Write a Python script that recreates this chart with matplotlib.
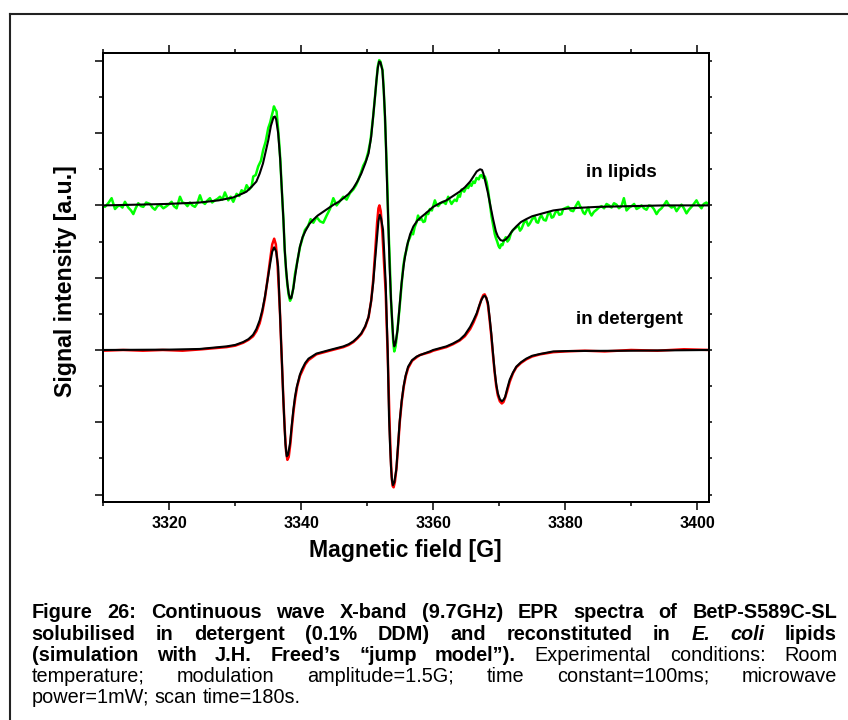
import matplotlib
matplotlib.use("Agg")
import matplotlib.pyplot as plt
from matplotlib.lines import Line2D
from matplotlib.ticker import FormatStrFormatter, MultipleLocator

plt.rcParams["font.family"] = ["Liberation Sans", "DejaVu Sans"]
plt.rcParams["font.weight"] = "bold"

W, H = 848, 720

# simulation, in lipids (black, upper)
sim_lip_field = [
    3310.0, 3315.0, 3319.6, 3324.6, 3327.5, 3329.7, 3331.0, 3331.7, 3332.5, 3333.2,
    3333.7, 3334.2, 3334.6, 3335.0, 3335.4, 3335.8, 3336.0, 3336.2, 3336.5, 3336.8,
    3337.0, 3337.3, 3337.5, 3337.7, 3337.9, 3338.1, 3338.3, 3338.5, 3338.8, 3339.05,
    3339.4, 3339.8, 3340.2, 3340.6, 3341.2, 3341.8, 3342.5, 3343.3, 3344.1, 3344.9,
    3345.7, 3346.4, 3347.2, 3347.9, 3348.5, 3349.1, 3349.7, 3350.2, 3350.6, 3350.9,
    3351.2, 3351.4, 3351.6, 3351.8, 3352.0, 3352.3, 3352.5, 3352.7, 3352.85, 3353.0,
    3353.2, 3353.4, 3353.6, 3353.8, 3353.95, 3354.1, 3354.3, 3354.6, 3354.9, 3355.2,
    3355.6, 3356.0, 3356.5, 3357.0, 3357.6, 3358.2, 3359.0, 3360.0, 3361.0, 3362.0,
    3363.0, 3364.0, 3364.8, 3365.6, 3366.1, 3366.6, 3367.1, 3367.4, 3367.6, 3367.9,
    3368.3, 3368.7, 3369.1, 3369.5, 3369.8, 3370.2, 3370.6, 3371.0, 3371.4, 3372.0,
    3372.6, 3373.3, 3374.1, 3375.0, 3376.2, 3378.2, 3380.7, 3385.0, 3390.0, 3395.0,
    3402.0,
]
sim_lip_signal = [
    2.00, 2.01, 2.02, 2.04, 2.07, 2.11, 2.16, 2.19, 2.26, 2.33,
    2.44, 2.58, 2.74, 2.90, 3.10, 3.22, 3.23, 3.19, 3.00, 2.65,
    2.31, 1.80, 1.38, 1.12, 0.92, 0.78, 0.71, 0.72, 0.85, 1.01,
    1.22, 1.43, 1.56, 1.64, 1.74, 1.80, 1.86, 1.91, 1.96, 2.01,
    2.05, 2.10, 2.16, 2.24, 2.33, 2.44, 2.58, 2.72, 2.95, 3.23,
    3.52, 3.73, 3.90, 3.99, 3.98, 3.87, 3.60, 3.23, 2.80, 2.31,
    1.75, 1.15, 0.70, 0.37, 0.15, 0.05, 0.10, 0.28, 0.60, 0.92,
    1.22, 1.43, 1.60, 1.71, 1.79, 1.84, 1.90, 1.98, 2.03, 2.07,
    2.13, 2.19, 2.25, 2.33, 2.40, 2.47, 2.50, 2.49, 2.44, 2.33,
    2.17, 1.98, 1.80, 1.64, 1.57, 1.52, 1.51, 1.53, 1.57, 1.65,
    1.71, 1.77, 1.81, 1.85, 1.88, 1.93, 1.96, 1.98, 1.99, 2.00,
    2.00,
]

# experiment, in lipids (green, noisy)
exp_lip_field = [
    3310.0, 3310.25, 3310.75, 3311.26, 3311.77, 3312.2, 3312.53, 3312.9, 3313.28, 3313.79,
    3314.2, 3314.55, 3314.9, 3315.3, 3315.7, 3316.06, 3316.5, 3317.07, 3317.45, 3317.83,
    3318.2, 3318.59, 3319.1, 3319.6, 3320.0, 3320.35, 3320.7, 3321.11, 3321.62, 3322.0,
    3322.37, 3322.75, 3323.13, 3323.5, 3323.89, 3324.25, 3324.65, 3325.0, 3325.4, 3325.8,
    3326.16, 3326.5, 3326.92, 3327.3, 3327.68, 3328.05, 3328.43, 3328.94, 3329.3, 3329.7,
    3330.2, 3330.6, 3330.96, 3331.35, 3331.72, 3332.1, 3332.47, 3332.73, 3333.1, 3333.48,
    3333.9, 3334.24, 3334.6, 3335.0, 3335.3, 3335.5, 3335.7, 3335.86, 3336.05, 3336.26,
    3336.5, 3336.67, 3336.85, 3337.0, 3337.3, 3337.5, 3337.7, 3337.9, 3338.1, 3338.3,
    3338.5, 3338.8, 3339.05, 3339.4, 3339.8, 3340.2, 3340.56, 3341.07, 3341.42, 3341.83,
    3342.33, 3342.84, 3343.34, 3343.85, 3344.35, 3344.86, 3345.36, 3345.87, 3346.37, 3346.88,
    3347.38, 3347.89, 3348.3, 3348.64, 3349.0, 3349.4, 3349.8, 3350.16, 3350.5, 3350.9,
    3351.2, 3351.42, 3351.6, 3351.82, 3352.0, 3352.33, 3352.5, 3352.68, 3352.85, 3353.04,
    3353.2, 3353.44, 3353.6, 3353.8, 3353.95, 3354.1, 3354.3, 3354.55, 3354.9, 3355.2,
    3355.45, 3355.7, 3356.0, 3356.2, 3356.45, 3356.7, 3356.95, 3357.2, 3357.45, 3357.7,
    3357.95, 3358.2, 3358.5, 3358.74, 3359.0, 3359.25, 3359.5, 3359.8, 3360.25, 3360.5,
    3360.76, 3361.1, 3361.5, 3361.9, 3362.27, 3362.5, 3362.78, 3363.0, 3363.28, 3363.55,
    3363.79, 3364.05, 3364.3, 3364.7, 3365.05, 3365.3, 3365.56, 3365.8, 3366.06, 3366.3,
    3366.57, 3366.9, 3367.1, 3367.32, 3367.55, 3367.83, 3368.1, 3368.33, 3368.6, 3368.84,
    3369.1, 3369.34, 3369.5, 3369.7, 3369.9, 3370.1, 3370.3, 3370.5, 3370.75, 3371.0,
    3371.25, 3371.5, 3371.8, 3372.1, 3372.5, 3372.9, 3373.15, 3373.4, 3373.75, 3374.1,
    3374.4, 3374.65, 3375.0, 3375.4, 3375.65, 3375.9, 3376.15, 3376.4, 3376.75, 3377.07,
    3377.4, 3377.7, 3377.95, 3378.2, 3378.5, 3378.8, 3379.1, 3379.45, 3379.7, 3380.2,
    3380.46, 3380.85, 3381.22, 3381.6, 3381.98, 3382.25, 3382.48, 3382.75, 3382.99, 3383.25,
    3383.49, 3383.75, 3384.0, 3384.35, 3384.76, 3385.1, 3385.51, 3385.9, 3386.27, 3386.65,
    3387.03, 3387.4, 3387.79, 3388.15, 3388.54, 3388.9, 3389.3, 3389.7, 3390.06, 3390.45,
    3390.82, 3391.2, 3391.57, 3391.95, 3392.33, 3392.7, 3393.09, 3393.45, 3393.85, 3394.2,
    3394.6, 3395.0, 3395.36, 3395.75, 3396.12, 3396.5, 3396.88, 3397.25, 3397.63, 3398.0,
    3398.39, 3398.75, 3399.15, 3399.5, 3399.9, 3400.3, 3400.66, 3401.0, 3401.4, 3401.8,
]
exp_lip_signal = [
    1.99, 1.98, 2.03, 2.10, 1.95, 1.99, 2.00, 1.97, 2.05, 1.97,
    1.93, 1.88, 1.96, 2.03, 1.99, 1.98, 2.04, 2.02, 1.97, 1.94,
    1.99, 2.01, 1.96, 1.99, 2.02, 2.05, 1.99, 1.96, 2.12, 2.04,
    2.03, 1.99, 2.04, 2.00, 1.98, 2.03, 2.14, 2.05, 2.02, 2.07,
    2.10, 2.04, 2.07, 2.09, 2.12, 2.08, 2.18, 2.07, 2.12, 2.05,
    2.16, 2.13, 2.21, 2.18, 2.28, 2.22, 2.26, 2.40, 2.42, 2.54,
    2.62, 2.77, 2.88, 3.07, 3.15, 3.23, 3.30, 3.37, 3.33, 3.30,
    3.05, 2.85, 2.60, 2.31, 1.80, 1.38, 1.10, 0.90, 0.76, 0.68,
    0.72, 0.86, 1.05, 1.22, 1.42, 1.55, 1.66, 1.72, 1.81, 1.76,
    1.84, 1.78, 1.76, 1.86, 1.95, 2.10, 2.00, 2.06, 2.12, 2.08,
    2.17, 2.22, 2.28, 2.35, 2.44, 2.55, 2.62, 2.74, 2.90, 3.23,
    3.52, 3.73, 3.92, 4.01, 3.99, 3.87, 3.60, 3.23, 2.80, 2.31,
    1.75, 1.15, 0.70, 0.35, 0.10, -0.02, 0.05, 0.25, 0.58, 0.90,
    1.15, 1.30, 1.40, 1.50, 1.55, 1.62, 1.60, 1.70, 1.76, 1.86,
    1.80, 1.82, 1.77, 1.78, 1.90, 1.88, 1.95, 1.93, 2.07, 2.01,
    1.99, 2.03, 2.05, 2.02, 2.12, 2.07, 2.02, 2.05, 2.08, 2.06,
    2.14, 2.12, 2.22, 2.19, 2.26, 2.24, 2.30, 2.27, 2.33, 2.31,
    2.38, 2.36, 2.41, 2.42, 2.38, 2.40, 2.32, 2.20, 2.02, 1.85,
    1.72, 1.60, 1.55, 1.50, 1.44, 1.41, 1.46, 1.45, 1.52, 1.56,
    1.50, 1.53, 1.62, 1.66, 1.69, 1.72, 1.65, 1.68, 1.76, 1.79,
    1.72, 1.75, 1.81, 1.84, 1.77, 1.76, 1.83, 1.86, 1.80, 1.79,
    1.88, 1.90, 1.83, 1.84, 1.90, 1.93, 1.87, 1.88, 1.95, 1.97,
    1.98, 1.93, 1.92, 1.99, 2.05, 1.99, 1.96, 1.90, 1.88, 1.93,
    1.97, 1.90, 1.86, 1.91, 1.94, 1.97, 1.99, 1.96, 2.02, 2.00,
    1.97, 2.03, 2.01, 1.96, 1.99, 2.10, 1.93, 1.97, 1.99, 2.02,
    1.95, 1.97, 2.00, 1.96, 1.94, 2.00, 1.99, 1.95, 1.88, 1.93,
    1.96, 2.01, 2.06, 2.00, 1.97, 1.99, 1.92, 1.97, 2.01, 1.96,
    1.89, 1.94, 1.98, 2.02, 2.07, 2.00, 1.96, 2.02, 2.04, 2.00,
]

# simulation, in detergent (black, lower)
sim_det_field = [
    3310.0, 3320.0, 3324.6, 3328.7, 3330.0, 3331.2, 3332.0, 3332.7, 3333.2, 3333.7,
    3334.1, 3334.5, 3334.9, 3335.3, 3335.6, 3335.9, 3336.2, 3336.5, 3336.65, 3336.8,
    3336.95, 3337.1, 3337.25, 3337.4, 3337.6, 3337.8, 3338.0, 3338.3, 3338.55, 3338.8,
    3339.05, 3339.3, 3339.8, 3340.1, 3340.6, 3341.1, 3342.3, 3344.3, 3346.4, 3347.2,
    3347.9, 3348.5, 3349.1, 3349.7, 3350.2, 3350.6, 3350.9, 3351.2, 3351.5, 3351.7,
    3351.9, 3352.1, 3352.4, 3352.6, 3352.8, 3352.95, 3353.1, 3353.2, 3353.3, 3353.45,
    3353.6, 3353.75, 3353.9, 3354.1, 3354.4, 3354.65, 3354.9, 3355.2, 3355.5, 3355.8,
    3356.2, 3356.8, 3357.5, 3358.0, 3359.5, 3360.0, 3362.0, 3363.0, 3364.0, 3364.8,
    3365.6, 3366.1, 3366.6, 3367.0, 3367.3, 3367.6, 3367.8, 3368.05, 3368.3, 3368.55,
    3368.8, 3369.05, 3369.3, 3369.55, 3369.8, 3370.1, 3370.4, 3370.65, 3370.9, 3371.2,
    3371.6, 3372.1, 3372.6, 3373.3, 3374.1, 3375.0, 3376.2, 3378.2, 3380.7, 3390.0,
    3402.0,
]
sim_det_signal = [
    0.00, 0.005, 0.014, 0.05, 0.07, 0.11, 0.15, 0.21, 0.29, 0.41,
    0.55, 0.74, 0.97, 1.20, 1.36, 1.42, 1.36, 1.15, 0.80, 0.46,
    0.10, -0.23, -0.60, -0.92, -1.30, -1.47, -1.45, -1.29, -1.05, -0.83,
    -0.65, -0.52, -0.34, -0.27, -0.18, -0.12, -0.05, 0.00, 0.05, 0.08,
    0.12, 0.17, 0.23, 0.33, 0.46, 0.68, 0.92, 1.25, 1.57, 1.78,
    1.87, 1.82, 1.66, 1.30, 0.92, 0.45, 0.00, -0.46, -0.92, -1.30,
    -1.61, -1.80, -1.87, -1.83, -1.66, -1.35, -1.01, -0.72, -0.51, -0.36,
    -0.23, -0.14, -0.09, -0.07, -0.02, 0.00, 0.05, 0.09, 0.14, 0.21,
    0.32, 0.41, 0.51, 0.62, 0.69, 0.74, 0.75, 0.72, 0.65, 0.45,
    0.23, -0.03, -0.28, -0.47, -0.60, -0.68, -0.71, -0.69, -0.65, -0.54,
    -0.41, -0.31, -0.23, -0.17, -0.12, -0.08, -0.055, -0.02, -0.014, -0.01,
    0.00,
]

# experiment, in detergent (red)
exp_det_field = [
    3310.0, 3313.0, 3316.0, 3319.0, 3322.0, 3325.0, 3328.7, 3330.0, 3331.2, 3332.0,
    3332.7, 3333.2, 3333.7, 3334.1, 3334.5, 3334.9, 3335.3, 3335.6, 3335.9, 3336.15,
    3336.4, 3336.6, 3336.8, 3336.95, 3337.1, 3337.3, 3337.5, 3337.7, 3337.9, 3338.1,
    3338.35, 3338.6, 3338.85, 3339.1, 3339.4, 3339.8, 3340.2, 3340.6, 3341.1, 3342.3,
    3344.3, 3346.4, 3347.2, 3347.9, 3348.5, 3349.1, 3349.7, 3350.2, 3350.6, 3350.9,
    3351.2, 3351.5, 3351.7, 3351.85, 3352.05, 3352.3, 3352.55, 3352.8, 3352.95, 3353.1,
    3353.25, 3353.4, 3353.55, 3353.7, 3353.85, 3354.0, 3354.2, 3354.45, 3354.7, 3354.95,
    3355.25, 3355.55, 3355.85, 3356.2, 3356.8, 3357.5, 3358.0, 3359.5, 3360.0, 3362.0,
    3363.0, 3364.0, 3364.8, 3365.6, 3366.1, 3366.6, 3367.0, 3367.3, 3367.6, 3367.8,
    3368.05, 3368.3, 3368.55, 3368.8, 3369.05, 3369.3, 3369.55, 3369.8, 3370.1, 3370.4,
    3370.65, 3370.9, 3371.2, 3371.6, 3372.1, 3372.6, 3373.3, 3374.1, 3375.0, 3376.2,
    3378.2, 3380.0, 3383.0, 3386.0, 3390.0, 3394.0, 3398.0, 3402.0,
]
exp_det_signal = [
    -0.01, 0.00, -0.01, 0.00, -0.01, 0.01, 0.04, 0.06, 0.10, 0.14,
    0.19, 0.26, 0.37, 0.52, 0.72, 0.98, 1.26, 1.46, 1.54, 1.46,
    1.20, 0.85, 0.47, 0.10, -0.25, -0.70, -1.10, -1.40, -1.52, -1.48,
    -1.30, -1.05, -0.83, -0.66, -0.50, -0.36, -0.28, -0.20, -0.14, -0.06,
    -0.01, 0.04, 0.07, 0.11, 0.16, 0.22, 0.32, 0.45, 0.68, 0.96,
    1.35, 1.76, 1.96, 2.00, 1.92, 1.62, 1.20, 0.80, 0.35, -0.05,
    -0.55, -1.05, -1.45, -1.75, -1.88, -1.90, -1.82, -1.62, -1.30, -0.98,
    -0.70, -0.50, -0.36, -0.25, -0.15, -0.10, -0.07, -0.03, -0.01, 0.04,
    0.08, 0.13, 0.19, 0.29, 0.38, 0.49, 0.61, 0.70, 0.76, 0.77,
    0.72, 0.62, 0.42, 0.20, -0.06, -0.30, -0.50, -0.63, -0.71, -0.74,
    -0.72, -0.66, -0.57, -0.44, -0.32, -0.24, -0.18, -0.13, -0.09, -0.06,
    -0.03, -0.02, -0.01, -0.02, 0.00, -0.01, 0.01, 0.00,
]

caption_lines = [
    [("Figure 26: Continuous wave X-band (9.7GHz) EPR spectra of BetP-S589C-SL", "bold")],
    [("solubilised in detergent (0.1% DDM) and reconstituted in", "bold"),
     ("E. coli", "bolditalic"), ("lipids", "bold")],
    [("(simulation with J.H. Freed\u2019s \u201cjump model\u201d).", "bold"),
     ("Experimental conditions: Room", "normal")],
    [("temperature; modulation amplitude=1.5G; time constant=100ms; microwave", "normal")],
    [("power=1mW; scan time=180s.", "normal")],
]
caption_baselines = [618.3, 640.0, 661.0, 681.7, 703.3]

STYLES = {
    "bold": ("bold", "normal"),
    "bolditalic": ("bold", "italic"),
    "normal": ("normal", "normal"),
}


def draw_caption(fig, left=31.7, right=837.0, size=14.3):
    """Justified caption, word by word (last line left aligned)."""
    renderer = fig.canvas.get_renderer()
    probe = fig.text(0, 0, "x x", fontsize=size, fontweight="normal")
    probe2 = fig.text(0, 0, "xx", fontsize=size, fontweight="normal")
    space = probe.get_window_extent(renderer).width - probe2.get_window_extent(renderer).width
    probe.remove()
    probe2.remove()
    for i, (segments, base) in enumerate(zip(caption_lines, caption_baselines)):
        words = [(w, st) for text, st in segments for w in text.split(" ")]
        arts = []
        for w, st in words:
            weight, style = STYLES[st]
            arts.append(fig.text(0, 1 - base / H, w, fontsize=size, fontweight=weight,
                                 fontstyle=style, ha="left", va="baseline"))
        widths = [a.get_window_extent(renderer).width for a in arts]
        if i == len(caption_lines) - 1:
            gap = space
        else:
            gap = (right - left - sum(widths)) / (len(widths) - 1)
        x = left
        for a, w in zip(arts, widths):
            a.set_x(x / W)
            x += w + gap


fig = plt.figure(figsize=(W / 100, H / 100), dpi=100)
ax = fig.add_axes([103.3 / W, 1 - 502.3 / H, (709.0 - 103.3) / W, (502.3 - 53.3) / H])

ax.plot(exp_lip_field, exp_lip_signal, color="#00ff00", linewidth=1.8, zorder=2)
ax.plot(exp_det_field, exp_det_signal, color="#ff0000", linewidth=1.8, zorder=2)
ax.plot(sim_lip_field, sim_lip_signal, color="black", linewidth=1.5, zorder=3)
ax.plot(sim_det_field, sim_det_signal, color="black", linewidth=1.5, zorder=3)

ax.text(3388.5, 2.45, "in lipids", fontsize=13.5, ha="center", va="center")
ax.text(3389.7, 0.415, "in detergent", fontsize=13.5, ha="center", va="center")

ax.set_xlim(3310, 3401.8)
ax.set_ylim(-2.107, 4.104)
ax.xaxis.set_major_locator(MultipleLocator(20))
ax.xaxis.set_minor_locator(MultipleLocator(10))
ax.xaxis.set_major_formatter(FormatStrFormatter("%d"))
ax.yaxis.set_major_locator(MultipleLocator(1))
ax.yaxis.set_minor_locator(MultipleLocator(0.5))
ax.tick_params(axis="x", which="both", direction="out", top=True, labelsize=11.5, pad=4.5, width=1.1)
ax.tick_params(axis="x", which="major", length=5.5)
ax.tick_params(axis="x", which="minor", length=3)
ax.tick_params(axis="y", which="both", direction="out", right=False, labelleft=False, width=1.1)
ax.tick_params(axis="y", which="major", length=6)
ax.tick_params(axis="y", which="minor", length=3)
for sp in ax.spines.values():
    sp.set_linewidth(1.4)

# short ticks on the right spine
ax2 = ax.twinx()
ax2.set_ylim(ax.get_ylim())
ax2.yaxis.set_major_locator(MultipleLocator(1))
ax2.yaxis.set_minor_locator(MultipleLocator(0.5))
ax2.tick_params(which="both", direction="out", length=1.8, width=1.1, labelright=False)
for sp in ax2.spines.values():
    sp.set_linewidth(1.4)

fig.text(65.8 / W, 1 - 281.5 / H, "Signal intensity [a.u.]", fontsize=16.7,
         rotation=90, ha="center", va="center")
fig.text(405.5 / W, 1 - 551.0 / H, "Magnetic field [G]", fontsize=16.6, ha="center", va="center")

# page frame (runs off the right and bottom edges)
fig.add_artist(Line2D([10.3 / W, 1.0], [1 - 14 / H, 1 - 14 / H], color="#222222", linewidth=1.5))
fig.add_artist(Line2D([10.3 / W, 10.3 / W], [1 - 14 / H, 0.0], color="#222222", linewidth=1.5))

draw_caption(fig)

fig.savefig("out.png", dpi=100)
